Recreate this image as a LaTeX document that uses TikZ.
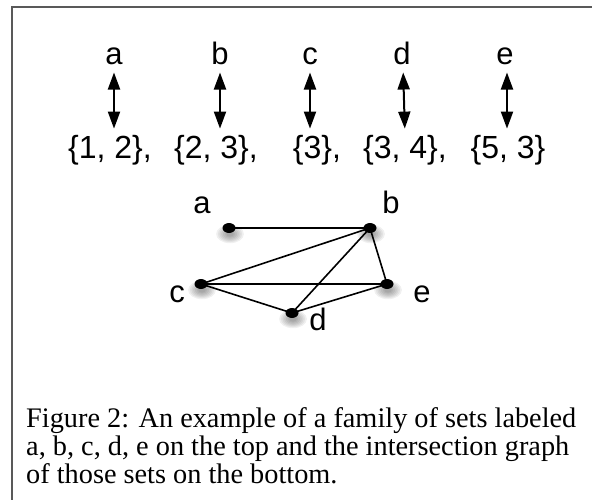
\documentclass[tikz,border=0pt]{standalone}
\usepackage{fontspec}
\setmainfont{Liberation Serif}
\newfontfamily\graphfont{Liberation Sans}
\usetikzlibrary{arrows.meta,shapes.geometric}

\tikzset{
  lbl/.style={anchor=base, inner sep=0pt, font=\graphfont\fontsize{31}{31}\selectfont},
  setlbl/.style={anchor=base, inner sep=0pt, font=\graphfont\fontsize{32}{32}\selectfont},
  link/.style={line width=2pt, {Triangle[length=17pt,width=12pt]}-{Triangle[length=17pt,width=12pt]}, shorten <=7pt, shorten >=7pt},
  vertex/.style={ellipse, fill=black, inner sep=0pt, minimum width=13pt, minimum height=10pt},
  edge/.style={line width=1.6pt},
  caption/.style={anchor=base west, inner sep=0pt, font=\fontsize{28.3}{28.3}\selectfont},
  frameline/.style={line width=1.8pt, draw=black!65}
}

\newcommand{\softshadow}[2]{%
  \foreach \r in {1,...,7}{%
    \fill[black, opacity=0.06] (#1+1, #2+6) ellipse ({2+1.7*\r} and {1.5+1.1*\r});
  }%
}

\begin{document}
\begin{tikzpicture}[x=1pt, y=-1pt]
\useasboundingbox (0,0) rectangle (592,500);

% panel border (left and top edges)
\draw[frameline] (12,500) -- (12,7) -- (592,7);

% the five sets with their names
\node[lbl] (la) at (114,65) {a};
\node[lbl] (lb) at (220,65) {b};
\node[lbl] (lc) at (310,65) {c};
\node[lbl] (ld) at (402,65) {d};
\node[lbl] (le) at (505,65) {e};

\node[setlbl] (s1) at (110,159) {\{1, 2\},};
\node[setlbl] (s2) at (216,159) {\{2, 3\},};
\node[setlbl] (s3) at (317,159) {\{3\},};
\node[setlbl] (s4) at (405,159) {\{3, 4\},};
\node[setlbl] (s5) at (508,159) {\{5, 3\}};

\draw[link] (la.south) -- (la.south |- s1.north);
\draw[link] (lb.south) -- (lb.south |- s2.north);
\draw[link] (lc.south) -- (lc.south |- s3.north);
\draw[link] ([xshift=1pt]ld.south) -- ([xshift=3pt]ld.south |- s4.north);
\draw[link] ([xshift=2pt]le.south) -- ([xshift=2pt]le.south |- s5.north);

% intersection graph
\softshadow{229}{228}
\softshadow{370}{228}
\softshadow{201}{284}
\softshadow{387}{284}
\softshadow{292}{313}

\node[vertex] (ga) at (229,228) {};
\node[vertex] (gb) at (370,228) {};
\node[vertex] (gc) at (201,284) {};
\node[vertex] (ge) at (387,284) {};
\node[vertex] (gd) at (292,313) {};

\draw[edge] (ga.center) -- (gb.center);
\draw[edge] (gb.center) -- (gc.center);
\draw[edge] (gb.center) -- (gd.center);
\draw[edge] (gb.center) -- (ge.center);
\draw[edge] (gc.center) -- (ge.center);
\draw[edge] (gc.center) -- (gd.center);
\draw[edge] (gd.center) -- (ge.center);

\node[lbl] (na) at (202,214) {a};
\node[lbl] (nb) at (391,214) {b};
\node[lbl] (nc) at (177,302) {c};
\node[lbl] (ne) at (422,302) {e};
\node[lbl] (nd) at (318,330) {d};

% caption
\node[caption] (cap1) at (26,427) {Figure 2: An example of a family of sets labeled};
\node[caption] (cap2) at (26,455) {a, b, c, d, e on the top and the intersection graph};
\node[caption] (cap3) at (26,483) {of those sets on the bottom.};
\end{tikzpicture}
\end{document}
